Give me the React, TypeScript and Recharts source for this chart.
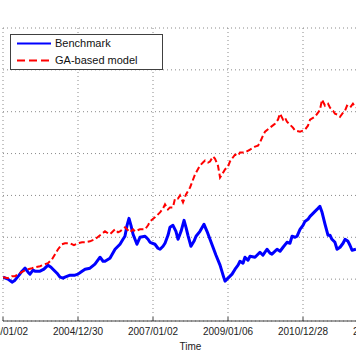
import { CartesianGrid, Legend, Line, LineChart, XAxis, YAxis } from 'recharts'

// trading-day index (0 = 2003/01/02) and normalised value
const benchmarkDays = [
  0, 33, 60, 80, 107, 127, 147, 167, 180, 200, 213, 247, 273, 300, 320, 333, 360, 380, 400, 413,
  447, 480, 500, 527, 547, 580, 613, 647, 667, 680, 713, 747, 780, 800, 813, 827, 840, 853, 867, 880,
  893, 913, 947, 967, 980, 1013, 1033, 1047, 1067, 1080, 1100, 1113, 1133, 1153, 1167, 1187, 1207, 1220, 1233, 1253,
  1273, 1287, 1313, 1340, 1360, 1380, 1400, 1420, 1447, 1467, 1480, 1500, 1527, 1547, 1567, 1580, 1600, 1613, 1633, 1647,
  1680, 1713, 1733, 1760, 1780, 1793, 1827, 1847, 1867, 1893, 1913, 1927, 1947, 1960, 1980, 2000, 2013, 2033, 2047, 2067,
  2080, 2100, 2113, 2127, 2147, 2167, 2180, 2193, 2213, 2227, 2247, 2267, 2280, 2300, 2313, 2327, 2353,
]
const benchmarkValues = [
  1.024, 1.0, 0.964, 0.988, 1.048, 1.095, 1.131, 1.083, 1.06, 1.107, 1.095, 1.095, 1.119, 1.167, 1.143, 1.119, 1.071, 1.024, 1.012, 1.024,
  1.048, 1.048, 1.06, 1.095, 1.119, 1.131, 1.179, 1.262, 1.214, 1.214, 1.25, 1.357, 1.417, 1.476, 1.512, 1.643, 1.726, 1.643, 1.536, 1.476,
  1.417, 1.5, 1.512, 1.476, 1.44, 1.417, 1.369, 1.357, 1.393, 1.429, 1.524, 1.619, 1.643, 1.571, 1.476, 1.571, 1.702, 1.619, 1.524, 1.393,
  1.452, 1.512, 1.571, 1.655, 1.571, 1.476, 1.381, 1.286, 1.167, 1.048, 0.976, 1.012, 1.06, 1.119, 1.167, 1.214, 1.19, 1.262, 1.226, 1.274,
  1.262, 1.321, 1.286, 1.357, 1.31, 1.298, 1.357, 1.333, 1.381, 1.44, 1.429, 1.512, 1.5, 1.512, 1.595, 1.643, 1.69, 1.714, 1.75, 1.786,
  1.81, 1.845, 1.869, 1.798, 1.655, 1.524, 1.524, 1.476, 1.44, 1.357, 1.381, 1.429, 1.476, 1.452, 1.405, 1.345, 1.357,
]

const gaDays = [
  0, 33, 60, 80, 113, 147, 167, 193, 213, 247, 280, 300, 327, 347, 367, 393, 413, 447, 473, 500,
  527, 547, 580, 613, 647, 680, 700, 713, 747, 767, 780, 813, 847, 867, 880, 913, 947, 967, 980, 1013,
  1047, 1067, 1080, 1100, 1113, 1133, 1147, 1167, 1180, 1200, 1220, 1247, 1280, 1313, 1333, 1347, 1367, 1380, 1400, 1413,
  1433, 1447, 1460, 1480, 1500, 1513, 1527, 1547, 1567, 1580, 1613, 1647, 1680, 1700, 1713, 1733, 1747, 1780, 1813, 1833,
  1847, 1867, 1880, 1893, 1913, 1933, 1947, 1980, 2000, 2013, 2033, 2047, 2080, 2100, 2113, 2127, 2147, 2167, 2180, 2200,
  2213, 2233, 2247, 2267, 2280, 2293, 2313, 2333, 2353,
]
const gaValues = [
  1.024, 1.012, 1.036, 1.036, 1.071, 1.107, 1.119, 1.131, 1.143, 1.155, 1.179, 1.19, 1.238, 1.298, 1.357, 1.417, 1.429, 1.429, 1.405, 1.429,
  1.44, 1.44, 1.452, 1.476, 1.524, 1.571, 1.548, 1.536, 1.595, 1.56, 1.571, 1.619, 1.56, 1.595, 1.571, 1.595, 1.595, 1.643, 1.69, 1.738,
  1.798, 1.845, 1.893, 1.833, 1.857, 1.857, 1.964, 1.964, 2.0, 1.917, 2.012, 2.095, 2.25, 2.357, 2.393, 2.417, 2.393, 2.405, 2.464, 2.44,
  2.357, 2.214, 2.25, 2.31, 2.345, 2.405, 2.44, 2.488, 2.476, 2.512, 2.512, 2.548, 2.583, 2.595, 2.631, 2.714, 2.762, 2.81, 2.857, 2.905,
  2.976, 2.905, 2.929, 2.881, 2.845, 2.81, 2.774, 2.762, 2.774, 2.786, 2.833, 2.905, 2.94, 2.988, 3.024, 3.143, 3.071, 3.095, 3.048, 3.012,
  2.976, 2.964, 2.94, 2.988, 3.012, 3.071, 3.048, 3.095, 3.048,
]

const tickDays = [0, 500, 1000, 1500, 2000, 2500]
const tickLabels = ['2003/01/02', '2004/12/30', '2007/01/02', '2009/01/06', '2010/12/28', '2012/12/31']
const yTicks = [0.5, 1, 1.5, 2, 2.5, 3, 3.5, 4]

const BENCH_COLOR = '#0000ff'
const GA_COLOR = '#ff0000'
const AXIS_COLOR = '#404040'
const FONT = '"Liberation Sans", Arial, sans-serif'

const benchmarkData = benchmarkDays.map((day, i) => ({ day, value: benchmarkValues[i] }))
const gaData = gaDays.map((day, i) => ({ day, value: gaValues[i] }))

function BottomTick({ x, y, payload }: any) {
  const idx = tickDays.indexOf(payload.value)
  return (
    <g>
      <line x1={x} x2={x} y1={y} y2={y - 4} stroke={AXIS_COLOR} />
      <text x={x} y={y + 14} textAnchor="middle" fontSize={10} fontFamily={FONT} fill="#222">
        {tickLabels[idx]}
      </text>
    </g>
  )
}

function TopTick({ x, y }: any) {
  return <line x1={x} x2={x} y1={y} y2={y + 4} stroke={AXIS_COLOR} />
}

function LeftTick({ x, y }: any) {
  return <line x1={x} x2={x + 4} y1={y} y2={y} stroke={AXIS_COLOR} />
}

function BoxLegend() {
  const rows = [
    { name: 'Benchmark', color: BENCH_COLOR, dash: undefined, top: 2 },
    { name: 'GA-based model', color: GA_COLOR, dash: '8 4', top: 19 },
  ]
  return (
    <div
      style={{
        position: 'relative',
        boxSizing: 'border-box',
        width: 153,
        height: 36,
        border: `1px solid ${AXIS_COLOR}`,
        background: '#fff',
        fontFamily: FONT,
        fontSize: 11,
        color: '#111',
      }}
    >
      {rows.map((r) => (
        <div key={r.name} style={{ position: 'absolute', left: 0, top: r.top, height: 13, lineHeight: '13px' }}>
          <svg width={40} height={13} style={{ position: 'absolute', left: 6, top: 0 }}>
            <line x1={0} x2={34} y1={6.5} y2={6.5} stroke={r.color} strokeWidth={2} strokeDasharray={r.dash} />
          </svg>
          <span style={{ position: 'absolute', left: 44, top: 0, whiteSpace: 'nowrap' }}>{r.name}</span>
        </div>
      ))}
    </div>
  )
}

export default function App() {
  return (
    <div
      style={{
        position: 'absolute',
        left: 0,
        top: 0,
        width: 356,
        height: 364,
        overflow: 'hidden',
        background: '#fff',
      }}
    >
      <LineChart width={400} height={364} margin={{ top: 28, right: 22, bottom: 0, left: 3 }}>
        <CartesianGrid stroke="#8a8a8a" strokeDasharray="1 3" />
        <XAxis
          dataKey="day"
          type="number"
          domain={[0, 2500]}
          ticks={tickDays}
          interval={0}
          height={43}
          tickSize={0}
          tickMargin={0}
          tickLine={false}
          axisLine={{ stroke: AXIS_COLOR }}
          tick={<BottomTick />}
          allowDataOverflow
          label={{ value: 'Time', position: 'insideBottom', offset: 14, fontSize: 10, fill: '#222', fontFamily: FONT }}
        />
        <XAxis
          xAxisId="top"
          orientation="top"
          dataKey="day"
          type="number"
          domain={[0, 2500]}
          ticks={tickDays}
          interval={0}
          height={0}
          tickSize={0}
          tickMargin={0}
          tickLine={false}
          axisLine={{ stroke: AXIS_COLOR }}
          tick={<TopTick />}
        />
        <YAxis
          type="number"
          domain={[0.5, 4]}
          ticks={yTicks}
          interval={0}
          width={0}
          tickSize={0}
          tickMargin={0}
          tickLine={false}
          axisLine={{ stroke: AXIS_COLOR }}
          tick={<LeftTick />}
        />
        <Legend
          verticalAlign="middle"
          align="center"
          content={<BoxLegend />}
          wrapperStyle={{ left: 10, top: 34, width: 153, height: 36 }}
        />
        <Line
          data={benchmarkData}
          dataKey="value"
          name="Benchmark"
          type="linear"
          stroke={BENCH_COLOR}
          strokeWidth={3}
          strokeLinejoin="round"
          dot={false}
          isAnimationActive={false}
        />
        <Line
          data={gaData}
          dataKey="value"
          name="GA-based model"
          type="linear"
          stroke={GA_COLOR}
          strokeWidth={2}
          strokeDasharray="6 3"
          dot={false}
          isAnimationActive={false}
        />
      </LineChart>
    </div>
  )
}
